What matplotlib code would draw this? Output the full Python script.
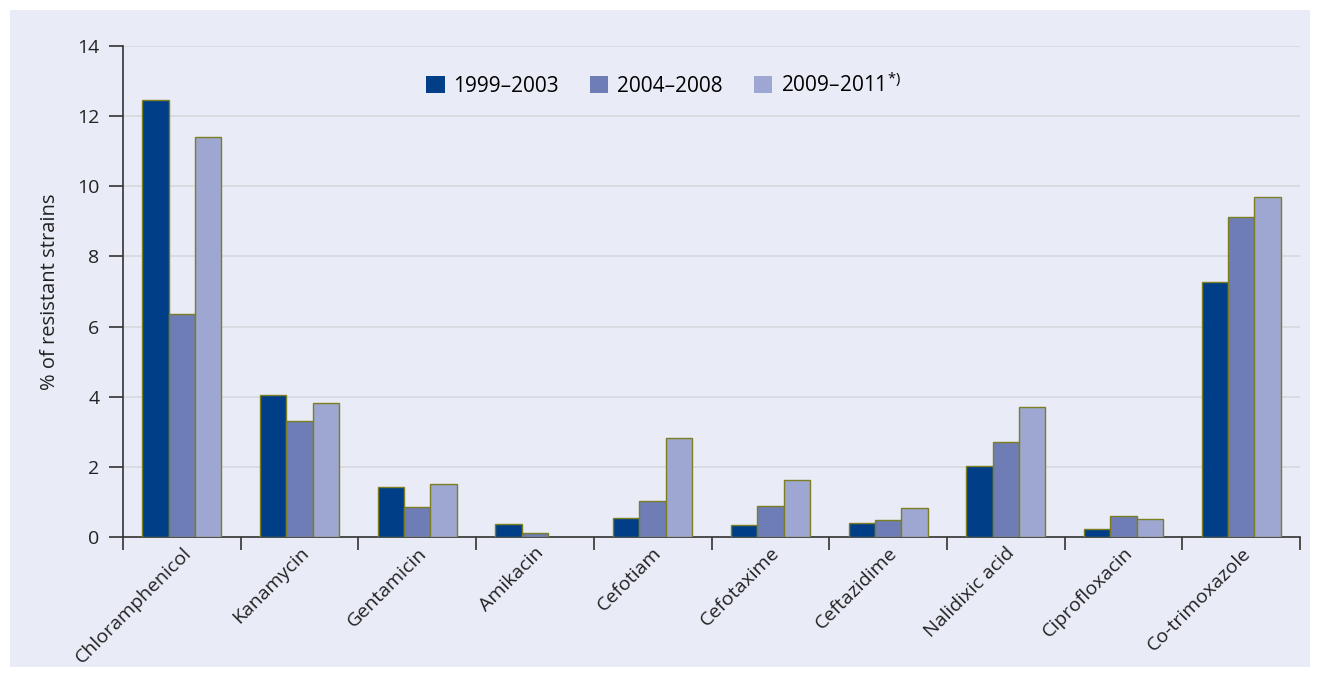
import numpy as np
import matplotlib
matplotlib.use("Agg")
import matplotlib.pyplot as plt
from matplotlib.patches import Rectangle
import matplotlib.transforms as mtransforms

drugs = ["Chloramphenicol", "Kanamycin", "Gentamicin", "Amikacin", "Cefotiam",
         "Cefotaxime", "Ceftazidime", "Nalidixic acid", "Ciprofloxacin", "Co-trimoxazole"]
periods = ["1999\u20132003", "2004\u20132008", "2009\u20132011$^{\\mathrm{*)}}$"]
p1999 = [12.45, 4.05, 1.43, 0.36, 0.54, 0.33, 0.39, 2.02, 0.23, 7.27]
p2004 = [6.35, 3.30, 0.86, 0.12, 1.04, 0.87, 0.49, 2.71, 0.61, 9.13]
p2009 = [11.40, 3.81, 1.51, 0.0, 2.81, 1.62, 0.82, 3.71, 0.51, 9.69]
yticks = [0, 2, 4, 6, 8, 10, 12, 14]

colors = ["#003f87", "#6e7db5", "#9ea7d1"]
panel = "#e9ecf6"
txt = "#222222"

plt.rcParams["font.family"] = ["Open Sans", "DejaVu Sans"]
plt.rcParams["mathtext.fontset"] = "custom"
plt.rcParams["mathtext.rm"] = "Open Sans"

fig = plt.figure(figsize=(13.19, 6.77), dpi=100, facecolor="white")
fig.patches.append(Rectangle((10/1319, 10/677), 1300/1319, 657/677,
                             transform=fig.transFigure, facecolor=panel,
                             edgecolor="none", zorder=-10))
ax = fig.add_axes([123/1319, 1 - 537/677, 1177/1319, 491/677])
ax.set_facecolor(panel)

x = np.arange(len(drugs))
w = 0.224
for i, (vals, c, lab) in enumerate(zip([p1999, p2004, p2009], colors, periods)):
    bars = ax.bar(x + (i - 1) * w, vals, width=w, color=c, edgecolor="#7d7d22",
                  linewidth=1.0, label=lab, zorder=3)
    # zero values show no bar at all
    for b, v in zip(bars, vals):
        if v == 0:
            b.set_visible(False)

ax.set_xlim(-0.5, len(drugs) - 0.5)
ax.set_ylim(0, 14)
ax.set_yticks(yticks)
ax.yaxis.grid(True, color="#d8d8dc", linewidth=1.2, zorder=0)
ax.set_axisbelow(True)

ax.set_xticks(x)
ax.set_xticklabels(drugs, rotation=45, ha="right", rotation_mode="anchor",
                   fontsize=14, color=txt)
shift = mtransforms.ScaledTranslation(6/100, 0, fig.dpi_scale_trans)
for lbl in ax.get_xticklabels():
    lbl.set_transform(lbl.get_transform() + shift)
ax.set_xticks(np.arange(-0.5, len(drugs)), minor=True)
ax.tick_params(axis="x", which="major", length=0, pad=5)
ax.tick_params(axis="x", which="minor", length=9, width=1.2, color="#333333", direction="out")
ax.tick_params(axis="y", length=10, width=1.2, color="#333333", labelsize=14,
               labelcolor=txt, pad=7)

for s in ["top", "right"]:
    ax.spines[s].set_visible(False)
for s in ["left", "bottom"]:
    ax.spines[s].set_color("#333333")
    ax.spines[s].set_linewidth(1.2)

ax.set_ylabel("% of resistant strains", fontsize=14.5, color=txt, labelpad=12)

leg = ax.legend(loc="center", bbox_to_anchor=(0.459, 0.921), ncol=3, frameon=False,
                fontsize=15, handlelength=0.9, handleheight=0.9, columnspacing=1.5,
                handletextpad=0.4, borderpad=0)
for h in leg.legend_handles:
    h.set_edgecolor("none")

fig.savefig("out.png", dpi=100, facecolor="white")
